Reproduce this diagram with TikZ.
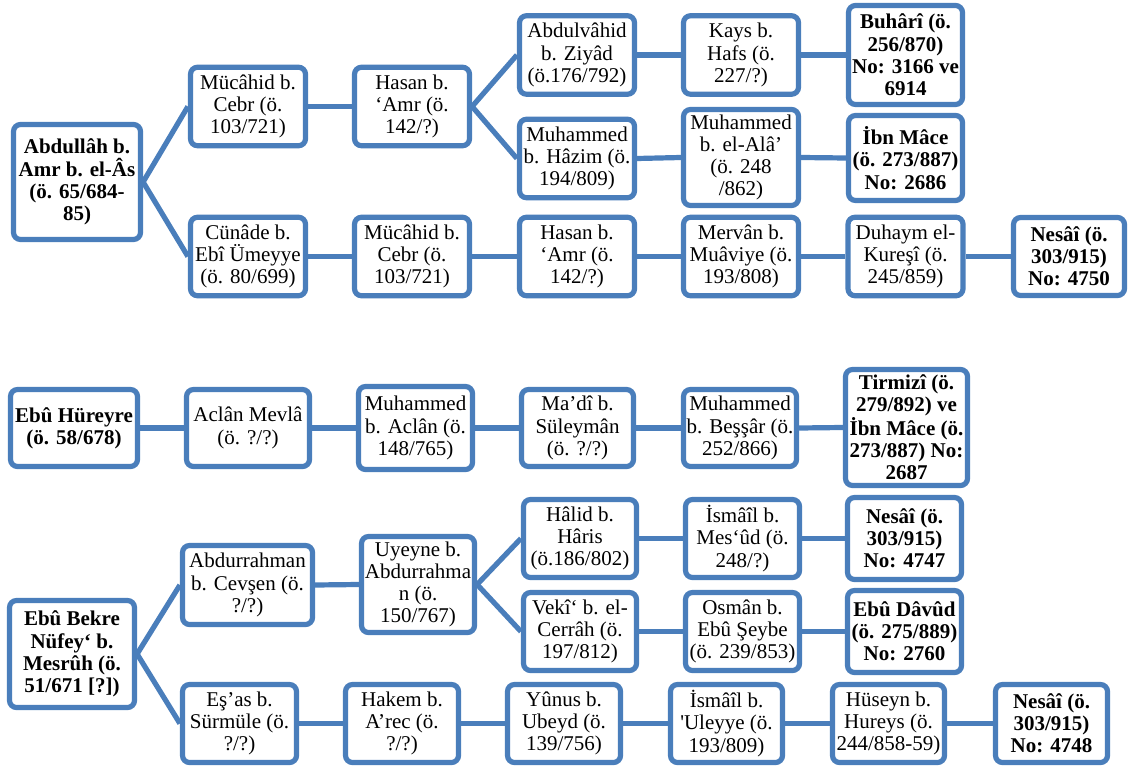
\documentclass[tikz,border=0pt]{standalone}
\usepackage{fontspec}
\setmainfont{Liberation Serif}[Ligatures=TeXOff]
\definecolor{chainBlue}{RGB}{74,126,187}

\begin{document}
\begin{tikzpicture}[
        x=1pt, y=-1pt,
        personBox/.style={draw=chainBlue, line width=5.2pt, rounded corners=7pt, fill=white,
            align=center, inner sep=1pt, font=\fontsize{21}{22.2}\selectfont,
            minimum width=115pt, minimum height=78.5pt},
        sourceBox/.style={personBox, font=\fontsize{21}{22.2}\selectfont\bfseries},
        boxSize/.style 2 args={minimum width=#1pt, minimum height=#2pt},
        linkLine/.style={chainBlue, line width=5.2pt}
    ]
        \useasboundingbox (0,0) rectangle (1129,767);

        % Abdullah b. Amr chain
        \node[sourceBox, boxSize={127}{115}] (abdullah) at (77,182) {Abdullâh b.\\Amr b. el-Âs\\(ö. 65/684-\\85)};
        \node[personBox] (mucahidA) at (248,106.5) {Mücâhid b.\\Cebr (ö.\\103/721)};
        \node[personBox] (hasanA) at (412,106.5) {Hasan b.\\‘Amr (ö.\\142/?)};
        \node[personBox] (abdulvahid) at (577,55) {Abdulvâhid\\b. Ziyâd\\(ö.176/792)};
        \node[personBox] (kays) at (741,55) {Kays b.\\Hafs (ö.\\227/?)};
        \node[sourceBox, boxSize={114}{99}] (buhari) at (905.5,55) {Buhârî (ö.\\256/870)\\No: 3166 ve\\6914};
        \node[personBox] (hazim) at (577,158.5) {Muhammed\\b. Hâzim (ö.\\194/809)};
        \node[personBox, boxSize={115}{96}] (ala) at (741,157.5) {Muhammed\\b. el-Alâ’\\(ö. 248\\/862)};
        \node[sourceBox, boxSize={114}{85}] (ibnMaceA) at (905.5,158) {İbn Mâce\\(ö. 273/887)\\No: 2686};
        \node[personBox] (cunade) at (248,256.5) {Cünâde b.\\Ebî Ümeyye\\(ö. 80/699)};
        \node[personBox] (mucahidB) at (412,256.5) {Mücâhid b.\\Cebr (ö.\\103/721)};
        \node[personBox] (hasanB) at (577,256.5) {Hasan b.\\‘Amr (ö.\\142/?)};
        \node[personBox] (mervan) at (741,256.5) {Mervân b.\\Muâviye (ö.\\193/808)};
        \node[personBox] (duhaym) at (905.5,256.5) {Duhaym el-\\Kureşî (ö.\\245/859)};
        \node[sourceBox, boxSize={111}{78}] (nesaiA) at (1069,256.5) {Nesâî (ö.\\303/915)\\No: 4750};

        % Ebu Hureyre chain
        \node[sourceBox, boxSize={127}{77}] (hureyre) at (74,428) {Ebû Hüreyre\\(ö. 58/678)};
        \node[personBox, boxSize={123}{77}] (aclan) at (248,428) {Aclân Mevlâ\\(ö. ?/?)};
        \node[personBox, boxSize={114}{83}] (muhAclan) at (415.5,428) {Muhammed\\b. Aclân (ö.\\148/765)};
        \node[personBox, boxSize={112}{77}] (madi) at (577.5,428) {Ma’dî b.\\Süleymân\\(ö. ?/?)};
        \node[personBox, boxSize={113}{77}] (bessar) at (740,428) {Muhammed\\b. Beşşâr (ö.\\252/866)};
        \node[sourceBox, boxSize={122}{116}] (tirmizi) at (906.5,427.5) {Tirmizî (ö.\\279/892) ve\\İbn Mâce (ö.\\273/887) No:\\2687};

        % Ebu Bekre chain
        \node[sourceBox, boxSize={125}{107}] (bekre) at (72,654) {Ebû Bekre\\Nüfey‘ b.\\Mesrûh (ö.\\51/671 [?])};
        \node[personBox, boxSize={130}{79}] (abdurrahman) at (247.5,585) {Abdurrahman\\b. Cevşen (ö.\\?/?)};
        \node[personBox, boxSize={113}{96}] (uyeyne) at (418,584.5) {Uyeyne b.\\Abdurrahma\\n (ö.\\150/767)};
        \node[personBox, boxSize={113}{78}] (halid) at (580,538.5) {Hâlid b.\\Hâris\\(ö.186/802)};
        \node[personBox, boxSize={114}{78}] (ismailA) at (742.5,538.5) {İsmâîl b.\\Mes‘ûd (ö.\\248/?)};
        \node[sourceBox, boxSize={114}{82}] (nesaiB) at (904.5,538.5) {Nesâî (ö.\\303/915)\\No: 4747};
        \node[personBox, boxSize={113}{78}] (veki) at (580,631.5) {Vekî‘ b. el-\\Cerrâh (ö.\\197/812)};
        \node[personBox, boxSize={114}{78}] (osman) at (742.5,631.5) {Osmân b.\\Ebû Şeybe\\(ö. 239/853)};
        \node[sourceBox, boxSize={114}{82}] (ebuDavud) at (904.5,631.5) {Ebû Dâvûd\\(ö. 275/889)\\No: 2760};
        \node[personBox, boxSize={114}{78}] (esas) at (239.5,723.5) {Eş’as b.\\Sürmüle (ö.\\?/?)};
        \node[personBox, boxSize={113}{78}] (hakem) at (402,723.5) {Hakem b.\\A’rec (ö.\\?/?)};
        \node[personBox, boxSize={113}{78}] (yunus) at (564,723.5) {Yûnus b.\\Ubeyd (ö.\\139/756)};
        \node[personBox, boxSize={112}{78}] (ismailB) at (726.5,723.5) {İsmâîl b.\\'Uleyye (ö.\\193/809)};
        \node[personBox, boxSize={112}{78}] (huseyn) at (888.5,723.5) {Hüseyn b.\\Hureys (ö.\\244/858-59)};
        \node[sourceBox, boxSize={112}{78}] (nesaiC) at (1051.5,723.5) {Nesâî (ö.\\303/915)\\No: 4748};

        % Links between narrators
        \foreach \from/\to in {abdullah/mucahidA, abdullah/cunade, mucahidA/hasanA,
            hasanA/abdulvahid, hasanA/hazim, abdulvahid/kays, kays/buhari,
            hazim/ala, ala/ibnMaceA, cunade/mucahidB, mucahidB/hasanB,
            hasanB/mervan, mervan/duhaym, duhaym/nesaiA,
            hureyre/aclan, aclan/muhAclan, muhAclan/madi, madi/bessar, bessar/tirmizi,
            bekre/abdurrahman, bekre/esas, abdurrahman/uyeyne,
            uyeyne/halid, uyeyne/veki, halid/ismailA, ismailA/nesaiB,
            veki/osman, osman/ebuDavud, esas/hakem, hakem/yunus,
            yunus/ismailB, ismailB/huseyn, huseyn/nesaiC}
            \draw[linkLine] (\from.east) -- (\to.west);

    \end{tikzpicture}
\end{document}
